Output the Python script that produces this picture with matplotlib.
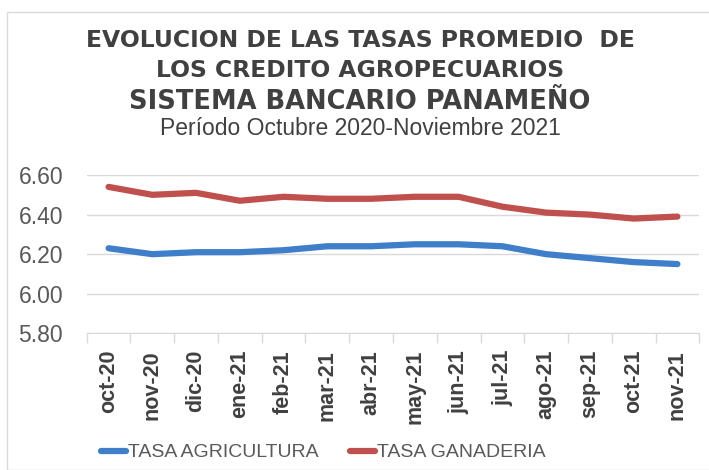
import matplotlib
matplotlib.use('Agg')
import matplotlib.pyplot as plt
from matplotlib.patches import Rectangle
from matplotlib.ticker import FixedLocator

months = ['oct-20', 'nov-20', 'dic-20', 'ene-21', 'feb-21', 'mar-21', 'abr-21',
          'may-21', 'jun-21', 'jul-21', 'ago-21', 'sep-21', 'oct-21', 'nov-21']
agricultura = [6.23, 6.20, 6.21, 6.21, 6.22, 6.24, 6.24,
               6.25, 6.25, 6.24, 6.20, 6.18, 6.16, 6.15]
ganaderia = [6.54, 6.50, 6.51, 6.47, 6.49, 6.48, 6.48,
             6.49, 6.49, 6.44, 6.41, 6.40, 6.38, 6.39]
yticks = [5.80, 6.00, 6.20, 6.40, 6.60]

plt.rcParams['font.family'] = ['Liberation Sans', 'DejaVu Sans']
grey = '#404040'
light = '#d9d9d9'
title_font = ['DejaVu Sans']

fig = plt.figure(figsize=(7.09, 4.70), dpi=100)
fig.add_artist(Rectangle((7 / 709, 0), 1, 1 - 12 / 470, transform=fig.transFigure,
                         fill=False, edgecolor=light, lw=1))

ax = fig.add_axes([0.1223, 0.2908, 0.8640, 0.3368])
x = range(len(months))
ax.plot(x, agricultura, color='#3f7ec8', lw=4.5, solid_capstyle='round',
        label='TASA AGRICULTURA')
ax.plot(x, ganaderia, color='#c0504d', lw=4.5, solid_capstyle='round',
        label='TASA GANADERIA')

ax.set_xlim(-0.5, len(months) - 0.5)
ax.set_ylim(5.80, 6.60)
ax.set_yticks(yticks)
ax.set_yticklabels([f'{v:.2f}' for v in yticks], fontsize=16.5, color='#595959')
ax.set_xticks(list(x))
ax.set_xticklabels(months, rotation=90, fontsize=15.5, fontweight='bold',
                   color=grey)
ax.xaxis.set_minor_locator(FixedLocator([i - 0.5 for i in range(len(months) + 1)]))
ax.tick_params(axis='x', which='major', length=0, pad=12)
ax.tick_params(axis='x', which='minor', length=7, color=light, width=1)
ax.tick_params(axis='y', length=0, pad=17)
ax.grid(axis='y', color=light, lw=1)
ax.set_axisbelow(True)
for side in ['top', 'right', 'left']:
    ax.spines[side].set_visible(False)
ax.spines['bottom'].set_color(light)

fig.text(0.508, 0.914, 'EVOLUCION DE LAS TASAS PROMEDIO  DE', ha='center',
         va='center', fontsize=16.9, fontweight='bold', color=grey,
         family=title_font)
fig.text(0.508, 0.850, 'LOS CREDITO AGROPECUARIOS', ha='center',
         va='center', fontsize=16.9, fontweight='bold', color=grey,
         family=title_font)
fig.text(0.508, 0.783, 'SISTEMA BANCARIO PANAMEÑO', ha='center',
         va='center', fontsize=18.5, fontweight='bold', color=grey,
         family=title_font)
fig.text(0.508, 0.727, 'Período Octubre 2020-Noviembre 2021', ha='center',
         va='center', fontsize=16.5, color=grey)

fig.legend(loc='center', bbox_to_anchor=(0.456, 0.037), ncol=2, frameon=False,
           fontsize=14, handlelength=1.3, handletextpad=0.1, columnspacing=1.6,
           labelcolor='#595959')

fig.savefig('out.png', dpi=100)
